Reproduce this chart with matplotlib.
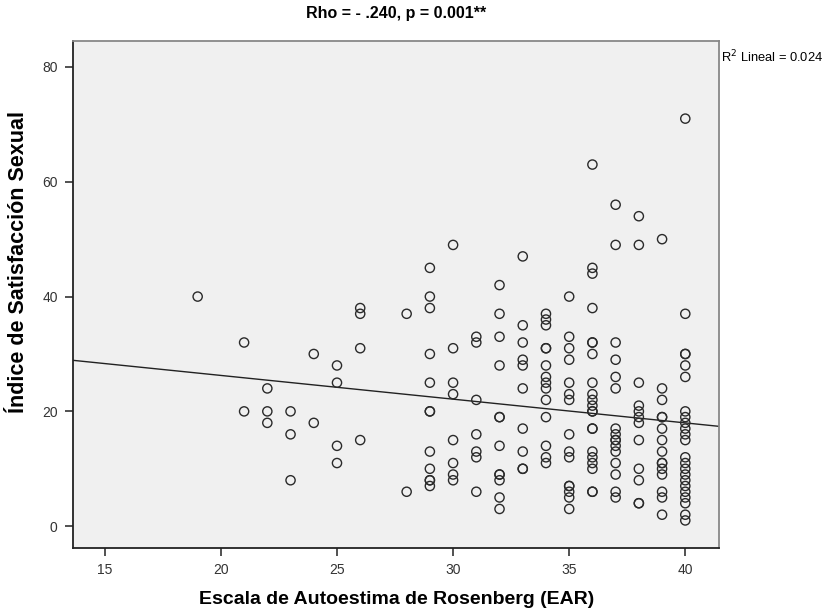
import numpy as np
import matplotlib.pyplot as plt

plt.rcParams['font.family'] = ['Liberation Sans', 'DejaVu Sans']

# EAR score -> list of satisfaction index values observed at that score
points = {
    19: [40],
    21: [32, 20],
    22: [24, 20, 18],
    23: [20, 16, 8],
    24: [30, 18],
    25: [28, 25, 14, 11],
    26: [38, 37, 31, 15],
    28: [37, 6],
    29: [45, 40, 38, 30, 25, 20, 20, 13, 10, 8, 8, 7],
    30: [49, 31, 25, 23, 15, 11, 9, 8],
    31: [33, 32, 22, 16, 13, 12, 6],
    32: [42, 37, 33, 28, 19, 19, 14, 9, 9, 8, 5, 3],
    33: [47, 35, 32, 29, 28, 24, 17, 13, 10, 10],
    34: [37, 36, 35, 31, 31, 28, 26, 25, 24, 22, 19, 14, 12, 11],
    35: [40, 33, 31, 29, 25, 23, 22, 16, 13, 12, 7, 7, 6, 5, 3],
    36: [63, 45, 44, 38, 32, 32, 30, 25, 23, 22, 21, 20, 20, 17, 17, 13, 12, 11, 10, 6, 6],
    37: [56, 49, 32, 29, 26, 24, 17, 16, 15, 15, 14, 13, 11, 9, 6, 5],
    38: [54, 49, 25, 21, 20, 19, 18, 15, 10, 8, 4, 4],
    39: [50, 24, 22, 19, 19, 17, 15, 13, 11, 11, 10, 9, 6, 5, 2],
    40: [71, 37, 30, 30, 28, 26, 20, 19, 18, 17, 16, 15, 12, 11, 10, 9, 8, 7, 6, 5, 4, 2, 1],
}
ear = np.array([k for k, vals in points.items() for _ in vals])
isi = np.array([v for vals in points.values() for v in vals])

# fit line as drawn in the original output (R2 lineal = 0.024)
fit_intercept = 34.53
fit_slope = -0.4134

fig = plt.figure(figsize=(8.33, 6.14), dpi=100)
ax = fig.add_axes([0.0876, 0.1075, 0.7755, 0.8255])
ax.set_facecolor('#F0F0F0')

ax.scatter(ear, isi, s=44, facecolors='none', edgecolors='#2a2a2a', linewidths=1.0, zorder=3)

xl = np.array([13.63, 41.45])
ax.plot(xl, fit_intercept + fit_slope * xl, color='#222222', lw=1.0, zorder=2)

ax.set_xlim(13.63, 41.45)
ax.set_ylim(-3.8, 84.5)
ax.set_xticks([15, 20, 25, 30, 35, 40])
ax.set_yticks([0, 20, 40, 60, 80])
ax.tick_params(direction='out', length=6, width=1.2, labelsize=10, colors='#333333', pad=5)

for s in ['left', 'bottom']:
    ax.spines[s].set_color('#222222')
    ax.spines[s].set_linewidth(1.3)
for s in ['top', 'right']:
    ax.spines[s].set_color('#888888')
    ax.spines[s].set_linewidth(1.3)

fig.text(0.476, 0.978, 'Rho = - .240, p = 0.001**', fontsize=11.5, fontweight='bold',
         ha='center', va='center')
fig.text(0.476, 0.023, 'Escala de Autoestima de Rosenberg (EAR)', fontsize=14, fontweight='bold',
         ha='center', va='center')
fig.text(0.022, 0.573, 'Índice de Satisfacción Sexual', fontsize=15.5, fontweight='bold',
         ha='center', va='center', rotation=90)

fig.text(0.865, 0.907, r'R$^2$ Lineal = 0.024', fontsize=9.3, ha='left', va='center')

fig.savefig('out.png', dpi=100)
